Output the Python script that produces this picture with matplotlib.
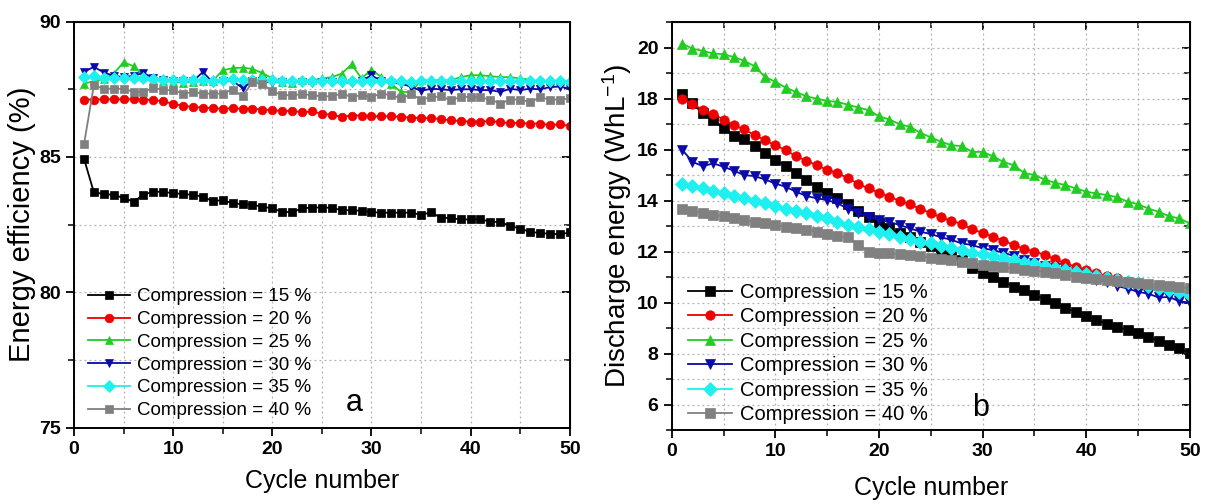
"""Energy efficiency and discharge energy vs cycle number for six compression ratios."""

import matplotlib

matplotlib.use("Agg")
import matplotlib.pyplot as plt
from matplotlib.ticker import MultipleLocator

plt.rcParams["font.family"] = ["Liberation Sans", "DejaVu Sans"]
plt.rcParams["mathtext.default"] = "regular"

cycles = list(range(1, 51))
labels = ["Compression = 15 %", "Compression = 20 %", "Compression = 25 %",
          "Compression = 30 %", "Compression = 35 %", "Compression = 40 %"]

# energy efficiency (%)
ee_15 = [84.94, 83.69, 83.63, 83.60, 83.48, 83.35, 83.60, 83.72, 83.71, 83.66,
         83.63, 83.60, 83.53, 83.36, 83.41, 83.28, 83.26, 83.23, 83.16, 83.10,
         82.97, 82.96, 83.10, 83.13, 83.13, 83.12, 83.03, 83.03, 83.01, 82.96,
         82.94, 82.94, 82.94, 82.94, 82.86, 82.95, 82.76, 82.74, 82.69, 82.69,
         82.69, 82.61, 82.59, 82.45, 82.35, 82.23, 82.19, 82.16, 82.14, 82.21]
ee_20 = [87.12, 87.12, 87.13, 87.13, 87.13, 87.13, 87.12, 87.10, 87.05, 86.97,
         86.88, 86.85, 86.82, 86.80, 86.78, 86.80, 86.78, 86.78, 86.75, 86.72,
         86.70, 86.70, 86.65, 86.68, 86.60, 86.55, 86.48, 86.53, 86.53, 86.50,
         86.50, 86.50, 86.48, 86.45, 86.43, 86.43, 86.40, 86.35, 86.33, 86.30,
         86.30, 86.33, 86.28, 86.25, 86.25, 86.23, 86.23, 86.18, 86.20, 86.15]
ee_25 = [87.71, 87.80, 87.88, 88.08, 88.50, 88.35, 88.00, 87.85, 87.80, 87.78,
         87.75, 87.78, 87.80, 87.82, 88.20, 88.28, 88.30, 88.25, 88.10, 87.90,
         87.78, 87.75, 87.83, 87.83, 87.90, 87.95, 88.08, 88.42, 87.90, 88.23,
         87.95, 87.70, 87.40, 87.40, 87.83, 87.83, 87.83, 87.83, 87.95, 88.02,
         88.02, 87.98, 87.95, 87.95, 87.90, 87.86, 87.78, 87.80, 87.80, 87.78]
ee_30 = [88.14, 88.33, 88.12, 88.00, 87.95, 88.00, 88.10, 87.92, 87.85, 87.80,
         87.80, 87.80, 88.14, 87.75, 87.80, 87.80, 87.55, 87.80, 87.80, 87.75,
         87.78, 87.75, 87.78, 87.75, 87.78, 87.78, 87.75, 87.75, 87.80, 88.02,
         87.80, 87.75, 87.70, 87.60, 87.44, 87.52, 87.50, 87.47, 87.50, 87.50,
         87.47, 87.47, 87.40, 87.52, 87.47, 87.52, 87.50, 87.58, 87.60, 87.52]
ee_35 = [87.96, 87.98, 87.93, 87.92, 87.90, 87.90, 87.90, 87.88, 87.85, 87.85,
         87.85, 87.85, 87.85, 87.82, 87.85, 87.88, 87.83, 87.85, 87.83, 87.83,
         87.80, 87.82, 87.80, 87.80, 87.81, 87.80, 87.80, 87.82, 87.80, 87.80,
         87.81, 87.80, 87.80, 87.78, 87.80, 87.80, 87.79, 87.80, 87.80, 87.81,
         87.80, 87.80, 87.79, 87.80, 87.80, 87.79, 87.80, 87.79, 87.80, 87.78]
ee_40 = [85.46, 87.65, 87.52, 87.52, 87.52, 87.40, 87.40, 87.56, 87.47, 87.47,
         87.34, 87.40, 87.34, 87.34, 87.34, 87.49, 87.24, 87.77, 87.68, 87.43,
         87.28, 87.28, 87.32, 87.28, 87.24, 87.24, 87.34, 87.22, 87.28, 87.22,
         87.34, 87.28, 87.16, 87.32, 87.12, 87.20, 87.24, 87.09, 87.22, 87.22,
         87.20, 87.12, 86.97, 87.12, 87.12, 87.03, 87.20, 87.12, 87.12, 87.16]

# discharge energy (WhL-1)
de_15 = [18.17, 17.81, 17.42, 17.15, 16.83, 16.53, 16.40, 16.14, 15.87, 15.61,
         15.35, 15.09, 14.80, 14.54, 14.28, 14.09, 13.88, 13.60, 13.37, 13.13,
         12.91, 12.74, 12.58, 12.39, 12.22, 12.06, 11.87, 11.67, 11.34, 11.17,
         11.02, 10.82, 10.63, 10.50, 10.30, 10.13, 9.97, 9.78, 9.65, 9.48,
         9.32, 9.16, 9.03, 8.93, 8.80, 8.65, 8.50, 8.35, 8.20, 8.02]
de_20 = [18.00, 17.78, 17.57, 17.39, 17.18, 16.96, 16.79, 16.57, 16.37, 16.17,
         15.98, 15.74, 15.56, 15.39, 15.20, 15.07, 14.89, 14.65, 14.48, 14.31,
         14.15, 13.99, 13.86, 13.66, 13.52, 13.34, 13.21, 13.08, 12.87, 12.74,
         12.58, 12.43, 12.26, 12.11, 12.00, 11.87, 11.70, 11.54, 11.41, 11.28,
         11.17, 11.04, 10.95, 10.85, 10.75, 10.65, 10.55, 10.45, 10.32, 10.20]
de_25 = [20.16, 19.96, 19.87, 19.77, 19.74, 19.63, 19.48, 19.27, 18.85, 18.66,
         18.43, 18.26, 18.09, 18.00, 17.91, 17.87, 17.76, 17.65, 17.55, 17.31,
         17.18, 17.00, 16.89, 16.66, 16.48, 16.31, 16.17, 16.14, 15.91, 15.91,
         15.74, 15.52, 15.39, 15.09, 15.00, 14.83, 14.70, 14.61, 14.48, 14.35,
         14.28, 14.22, 14.13, 13.96, 13.86, 13.69, 13.56, 13.39, 13.30, 13.11]
de_30 = [16.00, 15.52, 15.35, 15.46, 15.33, 15.17, 15.00, 14.96, 14.83, 14.67,
         14.54, 14.35, 14.18, 14.09, 14.02, 13.89, 13.69, 13.52, 13.37, 13.24,
         13.17, 13.04, 12.91, 12.78, 12.69, 12.56, 12.46, 12.32, 12.26, 12.13,
         12.06, 11.96, 11.83, 11.68, 11.54, 11.45, 11.35, 11.25, 11.12, 11.02,
         10.90, 10.80, 10.65, 10.55, 10.42, 10.35, 10.20, 10.22, 10.05, 10.00]
de_35 = [14.67, 14.57, 14.48, 14.39, 14.28, 14.18, 14.09, 13.99, 13.89, 13.79,
         13.69, 13.60, 13.50, 13.39, 13.30, 13.17, 13.05, 12.98, 12.87, 12.78,
         12.69, 12.58, 12.48, 12.39, 12.32, 12.22, 12.13, 12.06, 11.96, 11.91,
         11.83, 11.74, 11.67, 11.57, 11.50, 11.42, 11.35, 11.28, 11.20, 11.12,
         11.05, 10.97, 10.90, 10.82, 10.75, 10.66, 10.57, 10.48, 10.40, 10.30]
de_40 = [13.66, 13.60, 13.52, 13.43, 13.39, 13.30, 13.24, 13.17, 13.11, 13.04,
         12.98, 12.91, 12.85, 12.78, 12.69, 12.61, 12.56, 12.26, 12.00, 11.96,
         11.93, 11.91, 11.87, 11.83, 11.74, 11.70, 11.67, 11.61, 11.54, 11.48,
         11.44, 11.38, 11.34, 11.28, 11.25, 11.21, 11.15, 11.08, 11.02, 10.95,
         10.91, 10.89, 10.86, 10.82, 10.78, 10.73, 10.69, 10.65, 10.60, 10.56]

STYLES = [
    {"color": "#000000", "marker": "s"},
    {"color": "#ee0000", "marker": "o"},
    {"color": "#22cc22", "marker": "^"},
    {"color": "#0a0aa8", "marker": "v"},
    {"color": "#1ef0f0", "marker": "D"},
    {"color": "#808080", "marker": "s"},
]


def style_axes(ax, ymajor, yminor):
    ax.set_xlim(0, 50)
    ax.xaxis.set_major_locator(MultipleLocator(10))
    ax.xaxis.set_minor_locator(MultipleLocator(5))
    ax.yaxis.set_major_locator(MultipleLocator(ymajor))
    ax.yaxis.set_minor_locator(MultipleLocator(yminor))
    ax.grid(True, which="both", color="#b0b0b0", linestyle=(0, (1.5, 2.5)), linewidth=0.9)
    ax.set_axisbelow(True)
    ax.tick_params(which="major", direction="out", length=6, width=1.3, labelsize=14)
    ax.tick_params(which="minor", direction="out", length=4, width=1.1)
    for lab in ax.get_xticklabels() + ax.get_yticklabels():
        lab.set_fontweight("bold")
    for spine in ax.spines.values():
        spine.set_linewidth(1.4)
    # mirrored inward ticks on top and right
    top = ax.secondary_xaxis("top")
    top.xaxis.set_major_locator(MultipleLocator(10))
    top.xaxis.set_minor_locator(MultipleLocator(5))
    top.tick_params(which="major", direction="in", length=6, width=1.3, labeltop=False)
    top.tick_params(which="minor", direction="in", length=4, width=1.1)
    right = ax.secondary_yaxis("right")
    right.yaxis.set_major_locator(MultipleLocator(ymajor))
    right.yaxis.set_minor_locator(MultipleLocator(yminor))
    right.tick_params(which="major", direction="in", length=6, width=1.3, labelright=False)
    right.tick_params(which="minor", direction="in", length=4, width=1.1)


def plot_panel(ax, series, msize, lw):
    for values, label, st in zip(series, labels, STYLES):
        ax.plot(cycles, values, label=label, color=st["color"], marker=st["marker"],
                markersize=msize, linewidth=lw, markeredgewidth=0.5)


fig = plt.figure(figsize=(12.06, 5.03), dpi=100)
ax_a = fig.add_axes([0.0614, 0.150, 0.411, 0.807])
ax_b = fig.add_axes([0.557, 0.145, 0.4295, 0.811])

plot_panel(ax_a, [ee_15, ee_20, ee_25, ee_30, ee_35, ee_40], 6.2, 1.3)
ax_a.set_ylim(75, 90)
style_axes(ax_a, 5, 2.5)
ax_a.set_xlabel("Cycle number", fontsize=18, labelpad=8)
ax_a.set_ylabel("Energy efficiency (%)", fontsize=21, labelpad=2)
ax_a.legend(loc="lower left", bbox_to_anchor=(0.012, 0.0), frameon=False, fontsize=13.5,
            handlelength=2.2, handletextpad=0.4, labelspacing=0.3, borderaxespad=0.05)
ax_a.text(0.565, 0.06, "a", transform=ax_a.transAxes, fontsize=22, ha="center", va="center")

plot_panel(ax_b, [de_15, de_20, de_25, de_30, de_35, de_40], 6.8, 1.3)
ax_b.set_ylim(5, 21)
style_axes(ax_b, 2, 1)
ax_b.set_xlabel("Cycle number", fontsize=18, labelpad=11)
ax_b.set_ylabel("Discharge energy (WhL$^{-1}$)", fontsize=20, labelpad=2)
ax_b.legend(loc="lower left", bbox_to_anchor=(0.015, -0.005), frameon=False, fontsize=14.5,
            handlelength=2.2, handletextpad=0.4, labelspacing=0.27, borderaxespad=0.0)
ax_b.text(0.597, 0.055, "b", transform=ax_b.transAxes, fontsize=22, ha="center", va="center")

fig.savefig("out.png", dpi=100)
